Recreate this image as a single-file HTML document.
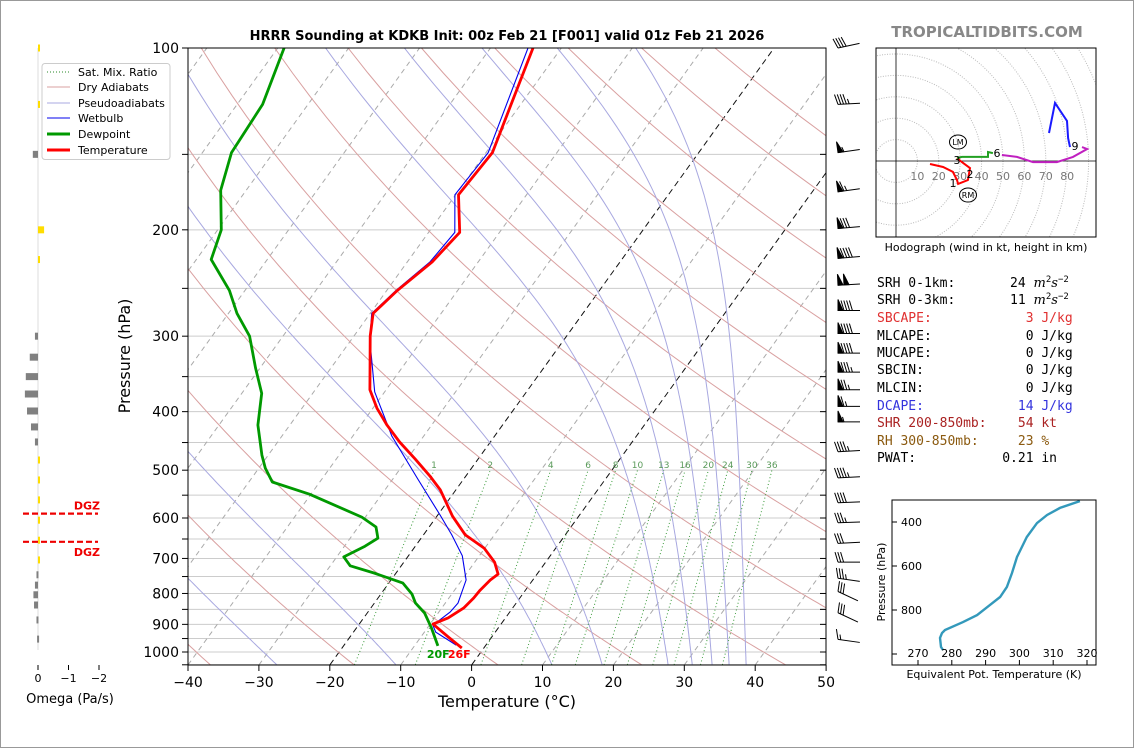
<!DOCTYPE html>
<html><head><meta charset="utf-8">
<style>
html,body{margin:0;padding:0;background:#fff;}
svg{display:block;font-family:"DejaVu Sans","Liberation Sans",sans-serif;}
.mono{font-family:"DejaVu Sans Mono","Liberation Mono",monospace;font-size:13px;white-space:pre;}
</style></head>
<body>
<svg id="chart" width="1134" height="748" viewBox="0 0 1134 748" xmlns="http://www.w3.org/2000/svg">
<rect x="0.5" y="0.5" width="1133" height="747" fill="#fff" stroke="#999"/>
<defs>
<clipPath id="skewclip"><rect x="188" y="48" width="638" height="617"/></clipPath>
<clipPath id="hodoclip"><rect x="876" y="48" width="220" height="189"/></clipPath>
<clipPath id="thetaclip"><rect x="892" y="500" width="204" height="165"/></clipPath>
</defs>
<text x="507" y="40" text-anchor="middle" font-size="13" font-weight="bold">HRRR Sounding at KDKB Init: 00z Feb 21 [F001] valid 01z Feb 21 2026</text>
<text x="987" y="37" text-anchor="middle" font-size="15" font-weight="bold" fill="#888">TROPICALTIDBITS.COM</text>
<g id="bg" clip-path="url(#skewclip)"></g>
<g id="prof" clip-path="url(#skewclip)"></g>
<g id="axes"></g>
<g id="barbs"></g>
<g id="omega"></g>
<g id="hodo"></g>
<g id="theta"></g>
<text x="130" y="356" transform="rotate(-90 130 356)" text-anchor="middle" font-size="16">Pressure (hPa)</text>
<text x="507" y="707" text-anchor="middle" font-size="16">Temperature (°C)</text>
<text x="70" y="703" text-anchor="middle" font-size="13">Omega (Pa/s)</text>
<text x="986" y="251" text-anchor="middle" font-size="11">Hodograph (wind in kt, height in km)</text>
<g>
<rect x="42" y="63.5" width="128" height="96" rx="3" fill="#fff" fill-opacity="0.9" stroke="#ccc"/>
<line x1="47" y1="72" x2="70" y2="72" stroke="#2a8a2a" stroke-dasharray="1,2"/>
<text x="78" y="76" font-size="11">Sat. Mix. Ratio</text>
<line x1="47" y1="87" x2="70" y2="87" stroke="#d9a0a0"/>
<text x="78" y="91" font-size="11">Dry Adiabats</text>
<line x1="47" y1="103" x2="70" y2="103" stroke="#a8a8e0"/>
<text x="78" y="107" font-size="11">Pseudoadiabats</text>
<line x1="47" y1="118" x2="70" y2="118" stroke="#0000ee"/>
<text x="78" y="122" font-size="11">Wetbulb</text>
<line x1="47" y1="134" x2="70" y2="134" stroke="#009900" stroke-width="3"/>
<text x="78" y="138" font-size="11">Dewpoint</text>
<line x1="47" y1="150" x2="70" y2="150" stroke="#ff0000" stroke-width="3"/>
<text x="78" y="154" font-size="11">Temperature</text>
</g>
<g class="mono">
<text x="877" y="287" class="mono">SRH 0-1km:       24 <tspan font-style="italic" font-family="DejaVu Serif,serif">m</tspan><tspan font-size="9" dy="-5">2</tspan><tspan font-style="italic" dy="5" font-family="DejaVu Serif,serif">s</tspan><tspan font-size="9" dy="-5">−2</tspan></text>
<text x="877" y="304" class="mono">SRH 0-3km:       11 <tspan font-style="italic" font-family="DejaVu Serif,serif">m</tspan><tspan font-size="9" dy="-5">2</tspan><tspan font-style="italic" dy="5" font-family="DejaVu Serif,serif">s</tspan><tspan font-size="9" dy="-5">−2</tspan></text>
<text x="877" y="322" class="mono" fill="#e03030">SBCAPE:            3 J/kg</text>
<text x="877" y="340" class="mono">MLCAPE:            0 J/kg</text>
<text x="877" y="357" class="mono">MUCAPE:            0 J/kg</text>
<text x="877" y="374" class="mono">SBCIN:             0 J/kg</text>
<text x="877" y="392" class="mono">MLCIN:             0 J/kg</text>
<text x="877" y="410" class="mono" fill="#3333dd">DCAPE:            14 J/kg</text>
<text x="877" y="427" class="mono" fill="#aa2222">SHR 200-850mb:    54 kt</text>
<text x="877" y="445" class="mono" fill="#8b5a10">RH 300-850mb:     23 %</text>
<text x="877" y="462" class="mono">PWAT:           0.21 in</text>
</g>
</svg>
<script>
// ---------- data ----------
const tempP = [985,941,899,878,846,814,790,760,743,710,673,640,596,539,511,479,449,421,395,368,300,275,252,226,202,175,149,100];
const tempT = [-3.1,-6.4,-9.6,-8.1,-6.9,-6.5,-6.4,-6.0,-5.5,-7.2,-10.1,-14.1,-17.8,-22.2,-25.1,-28.9,-32.8,-36.3,-39.4,-42.3,-47.7,-49.6,-48.5,-46.5,-45.6,-49.6,-49.1,-54.0];
const dewP = [977,913,862,830,802,769,740,720,696,668,648,621,598,548,523,496,472,421,373,339,300,275,252,224,200,172,149,124,100];
const dewT = [-6.7,-9.4,-11.9,-14.2,-15.6,-18,-23.1,-27.2,-29,-27.1,-26.1,-27.5,-30.5,-40.2,-46.7,-49.1,-50.9,-54.5,-57.2,-60.6,-64.7,-68.8,-72.2,-77.9,-79.5,-83.6,-85.9,-86.4,-89.1];
const wbP = [974,927,903,859,830,760,693,640,593,519,439,371,305,275,252,226,202,175,149,100];
const wbT = [-4.2,-8.4,-9.5,-8.4,-8.2,-9.4,-12.4,-16,-19.7,-26.3,-34.5,-41.4,-47.3,-49.8,-48.7,-46.8,-46.3,-50.1,-49.7,-54.7];
const pTicks = [100,200,300,400,500,600,700,800,900,1000];
const tTicks = [-40,-30,-20,-10,0,10,20,30,40,50];
const mixRatios = [1,2,4,6,8,10,13,16,20,24,30,36];
const dryThetas = [193,213,233,253,273,293,313,333,353,373,393,413,433,453,473];
const moistStarts = [-45,-27.5,-10.7,11.3,18.4,27.7,31.1,33.9,36.3,38.7];
const omegaP = [100,124,150,200,224,300,325,350,374,399,424,449,481,519,560,605,653,704,745,775,804,836,885,952];
const omegaV = [-0.03,-0.03,0.17,-0.2,-0.05,0.1,0.27,0.4,0.43,0.36,0.23,0.1,-0.03,-0.04,-0.05,-0.05,-0.05,-0.03,0.05,0.1,0.15,0.13,0.05,0.03];
const barbP = [100,124,149,173,199,223,247,272,297,320,344,368,392,416,466,515,566,611,661,710,755,794,861,953];
const barbSpd = [40,45,55,65,80,90,100,90,90,90,85,75,65,55,45,45,40,35,30,30,35,30,30,15];
const barbTilt = [-12,-3,-8,-8,-5,-5,-3,0,0,0,0,0,0,0,-3,-3,-2,-2,-3,0,8,25,25,8];
const hodoRedU = [15.9,22,26.6,28.5,29,33.6,34.6,30.8,28.5];
const hodoRedV = [-1.4,-2.8,-5.1,-8.9,-10.7,-8.9,-3.3,-0.5,1.4];
const hodoGreenU = [28.5,30.8,43,43,45.3];
const hodoGreenV = [1.4,1.9,1.9,4.2,3.7];
const hodoMagU = [49.5,56.5,64,75.2,82.7,89.3,86.9];
const hodoMagV = [2.8,1.9,-0.5,-0.5,1.9,5.6,6.5];
const hodoBlueU = [81.3,80.4,79.9,74.3,71.5];
const hodoBlueV = [6.5,10.7,18.7,27.1,13.1];
const thetaP = [305,336,368,405,468,559,632,695,741,777,823,855,891,905,927,968,982];
const thetaE = [317.9,312,308.2,305.2,302.2,299.3,297.8,296.3,294.3,291.3,287.5,283.3,278,277.1,276.5,276.8,277.4];

// ---------- helpers ----------
const NS = "http://www.w3.org/2000/svg";
function mk(parent, tag, attrs, txt){const e=document.createElementNS(NS,tag);for(const k in attrs)e.setAttribute(k,attrs[k]);if(txt!==undefined)e.textContent=txt;document.getElementById(parent).appendChild(e);return e;}
const Y = p => 48 + 604*Math.log10(p/100);
const X = (T,p) => 188 + (T+40)*7.09 + 0.72*(665 - Y(p));
function pathFrom(ps, ts){return ps.map((p,i)=>(i?'L':'M')+X(ts[i],p).toFixed(1)+','+Y(p).toFixed(1)).join(' ');}

// ---------- background ----------
for(let p=100;p<=1050;p+=50){
  const l=mk('bg','line',{x1:188,x2:826,y1:Y(p),y2:Y(p),stroke:'#ccc','stroke-width':1});
  
  
}
for(let t=-140;t<=50;t+=10){
  const black=(t===0||t===-20);
  const l=mk('bg','line',{x1:X(t,1050),y1:Y(1050),x2:X(t,100),y2:Y(100),stroke:black?'#111':'#aaa','stroke-width':1,'stroke-dasharray':black?'6,4':'5,4'});
  
  
}
dryThetas.forEach(th=>{
  let d='';for(let p=1050;p>=100;p-=10){const T=th*Math.pow(p/1000,0.286)-273.15;d+=(p===1050?'M':'L')+X(T,p).toFixed(1)+','+Y(p).toFixed(1);}
  const l=mk('bg','path',{d:d,fill:'none',stroke:'#d9a0a0','stroke-width':1});
  
  
});
moistStarts.forEach(t0=>{
  let T=t0+273.15,d='M'+X(t0,1050).toFixed(1)+','+Y(1050).toFixed(1);
  for(let p=1050;p>100;p-=5){
    const es=6.112*Math.exp(17.67*(T-273.15)/(T-29.65));const rs=0.622*es/Math.max(p-es,1);
    const dT=(287*T+2.5e6*rs)/(p*(1005+2.5e6*2.5e6*rs*0.622/(287*T*T)));T-=dT*5;
    d+='L'+X(T-273.15,p-5).toFixed(1)+','+Y(p-5).toFixed(1);
  }
  const l=mk('bg','path',{d:d,fill:'none',stroke:'#a8a8e0','stroke-width':1});
  
  
});
mixRatios.forEach(w=>{
  let d='';[1050,500].forEach((p,i)=>{const e=w*p/(622+w);const a=Math.log(e/6.112);const Td=243.5*a/(17.67-a);d+=(i?'L':'M')+X(Td,p).toFixed(1)+','+Y(p).toFixed(1);});
  const l=mk('bg','path',{d:d,fill:'none',stroke:'#3a9a3a','stroke-width':1,'stroke-dasharray':'1,2.5'});
  
  
  const e=w*500/(622+w),a=Math.log(e/6.112),Td=243.5*a/(17.67-a);
  const t=mk('bg','text',{x:X(Td,500),y:Y(500)-2,'font-size':9,fill:'#5a9a5a','text-anchor':'middle'},String(w));
  
  
});

// ---------- profiles ----------
const wb=mk('prof','path',{d:pathFrom(wbP,wbT),fill:'none',stroke:'#0000ee','stroke-width':1.1});


const dw=mk('prof','path',{d:pathFrom(dewP,dewT),fill:'none',stroke:'#009900','stroke-width':2.8,'stroke-linejoin':'round'});


const tp=mk('prof','path',{d:pathFrom(tempP,tempT),fill:'none',stroke:'#ff0000','stroke-width':2.8,'stroke-linejoin':'round'});


const sfT=Math.round(tempT[0]*9/5+32), sfD=Math.round(dewT[0]*9/5+32);
const lt=mk('axes','text',{x:X(tempT[0],tempP[0])-14,y:658,'font-size':11,'font-weight':'bold',fill:'#ff0000'},sfT+'F');


const ld=mk('axes','text',{x:X(tempT[0],tempP[0])-35,y:658,'font-size':11,'font-weight':'bold',fill:'#009900'},sfD+'F');



// ---------- axes ----------
mk('axes','rect',{x:188,y:48,width:638,height:617,fill:'none',stroke:'#000','stroke-width':1});
for(let p=100;p<=1050;p+=50){
  mk('axes','line',{x1:182,x2:188,y1:Y(p),y2:Y(p),stroke:'#000'});
  mk('axes','line',{x1:820,x2:826,y1:Y(p),y2:Y(p),stroke:'#000'});
}
pTicks.forEach(p=>{
  const t=mk('axes','text',{x:179,y:Y(p)+5,'font-size':14,'text-anchor':'end'},String(p));
  
  
});
tTicks.forEach(T=>{
  const x=188+(T+40)*7.09;
  mk('axes','line',{x1:x,x2:x,y1:665,y2:671,stroke:'#000'});
  const t=mk('axes','text',{x:x,y:687,'font-size':14,'text-anchor':'middle'},T<0?'−'+(-T):String(T));
  
  
});

// ---------- wind barbs ----------
barbP.forEach((p,i)=>{
  const y=Y(p),bx=838;
  const g=mk('barbs','g',{transform:`rotate(${barbTilt[i]} ${bx} ${y})`,stroke:'#000','stroke-width':1});
  
  
  const ln=document.createElementNS(NS,'line');ln.setAttribute('x1',bx);ln.setAttribute('y1',y);ln.setAttribute('x2',bx+22);ln.setAttribute('y2',y);g.appendChild(ln);
  let s=Math.round(barbSpd[i]/5)*5,x=bx;
  while(s>=50){const f=document.createElementNS(NS,'polygon');f.setAttribute('points',`${x},${y} ${x},${y-11} ${x+5},${y}`);f.setAttribute('fill','#000');g.appendChild(f);x+=6;s-=50;}
  while(s>=10){const b=document.createElementNS(NS,'line');b.setAttribute('x1',x-3);b.setAttribute('y1',y-10);b.setAttribute('x2',x);b.setAttribute('y2',y);g.appendChild(b);x+=2.8;s-=10;}
  if(s>=5){const b=document.createElementNS(NS,'line');b.setAttribute('x1',x-1.5);b.setAttribute('y1',y-5);b.setAttribute('x2',x);b.setAttribute('y2',y);g.appendChild(b);}
});

// ---------- omega panel ----------
const OX = w => 38 - 30.5*w;
mk('omega','line',{x1:38,x2:38,y1:48,y2:650,stroke:'#bbb','stroke-width':0.5});
omegaP.forEach((p,i)=>{
  const v=omegaV[i],x1=OX(v);
  const r=mk('omega','rect',{x:Math.min(x1,38),y:Y(p)-3.5,width:Math.max(Math.abs(x1-38),2),height:7,fill:v<0?'#ffdd00':'#808080'});
  
  
});
[0,-1,-2].forEach(w=>{
  mk('omega','line',{x1:OX(w),x2:OX(w),y1:665,y2:670,stroke:'#000'});
  const t=mk('omega','text',{x:OX(w),y:682,'font-size':11,'text-anchor':'middle'},w<0?'−'+(-w):'0');
  
  
});
[Y(590),Y(657)].forEach((y,i)=>{
  const l=mk('omega','line',{x1:23,x2:98,y1:y,y2:y,stroke:'#ee0000','stroke-width':2.2,'stroke-dasharray':'6,3'});
  
  
  const t=mk('omega','text',{x:100,y:i?y+14:y-4,'font-size':11,'font-weight':'bold',fill:'#ee0000','text-anchor':'end'},'DGZ');
  
  
});

// ---------- hodograph ----------
const HX = u => 896 + u*2.14, HY = v => 161 - v*2.14;
const hc=mk('hodo','g',{'clip-path':'url(#hodoclip)'});
for(let r=10;r<=120;r+=10){
  const c=document.createElementNS(NS,'circle');c.setAttribute('cx',896);c.setAttribute('cy',161);c.setAttribute('r',r*2.14);c.setAttribute('fill','none');c.setAttribute('stroke','#bbb');c.setAttribute('stroke-dasharray','1,1.5');hc.appendChild(c);
}
mk('hodo','line',{x1:896,x2:896,y1:48,y2:237,stroke:'#000','stroke-width':0.8});
mk('hodo','line',{x1:876,x2:1096,y1:161,y2:161,stroke:'#000','stroke-width':0.8});
for(let r=10;r<=80;r+=10){
  const t=mk('hodo','text',{x:HX(r),y:180,'font-size':11,fill:'#777','text-anchor':'middle'},String(r));
  
  
}
[[hodoRedU,hodoRedV,'#ff0000','hodo-0-3km'],[hodoGreenU,hodoGreenV,'#22a022','hodo-3-6km'],[hodoMagU,hodoMagV,'#c020c0','hodo-6-9km'],[hodoBlueU,hodoBlueV,'#1a1aff','hodo-9-12km']].forEach(s=>{
  const d=s[0].map((u,i)=>(i?'L':'M')+HX(u).toFixed(1)+','+HY(s[1][i]).toFixed(1)).join(' ');
  const l=mk('hodo','path',{d:d,fill:'none',stroke:s[2],'stroke-width':2});
  
  
});
[['1',953,187],['2',970,178],['3',957,164],['6',997,157],['9',1075,150]].forEach(a=>{
  const t=mk('hodo','text',{x:a[1],y:a[2],'font-size':11,'text-anchor':'middle'},a[0]);
  
  
});
[['LM',958,142],['RM',968,195]].forEach(a=>{
  mk('hodo','ellipse',{cx:a[1],cy:a[2],rx:8.5,ry:7,fill:'none',stroke:'#000','stroke-width':1});
  const t=mk('hodo','text',{x:a[1],y:a[2]+3,'font-size':8,'text-anchor':'middle'},a[0]);
  
  
});
mk('hodo','rect',{x:876,y:48,width:220,height:189,fill:'none',stroke:'#000','stroke-width':1});

// ---------- theta-e panel ----------
const EX = th => 918 + (th-270)*3.38, EY = p => 500 + (p-300)*0.22;
const ep=mk('theta','path',{d:thetaP.map((p,i)=>(i?'L':'M')+EX(thetaE[i]).toFixed(1)+','+EY(p).toFixed(1)).join(' '),fill:'none',stroke:'#3399bb','stroke-width':2.4,'clip-path':'url(#thetaclip)'});


mk('theta','rect',{x:892,y:500,width:204,height:165,fill:'none',stroke:'#000','stroke-width':1});
[400,600,800,1000].forEach(p=>{
  mk('theta','line',{x1:892,x2:897,y1:EY(p),y2:EY(p),stroke:'#000'});
  if(p<1000){const t=mk('theta','text',{x:922,y:EY(p)+4,'font-size':11,'text-anchor':'end'},String(p));
  
  }
});
[270,280,290,300,310,320].forEach(th=>{
  mk('theta','line',{x1:EX(th),x2:EX(th),y1:660,y2:665,stroke:'#000'});
  const t=mk('theta','text',{x:EX(th),y:657,'font-size':11,'text-anchor':'middle'},String(th));
  
  
});
const tx=mk('theta','text',{x:994,y:678,'font-size':11,'text-anchor':'middle'},'Equivalent Pot. Temperature (K)');


const ty=mk('theta','text',{x:885,y:582,'font-size':11,'text-anchor':'middle',transform:'rotate(-90 885 582)'},'Pressure (hPa)');


</script>
</body></html>
